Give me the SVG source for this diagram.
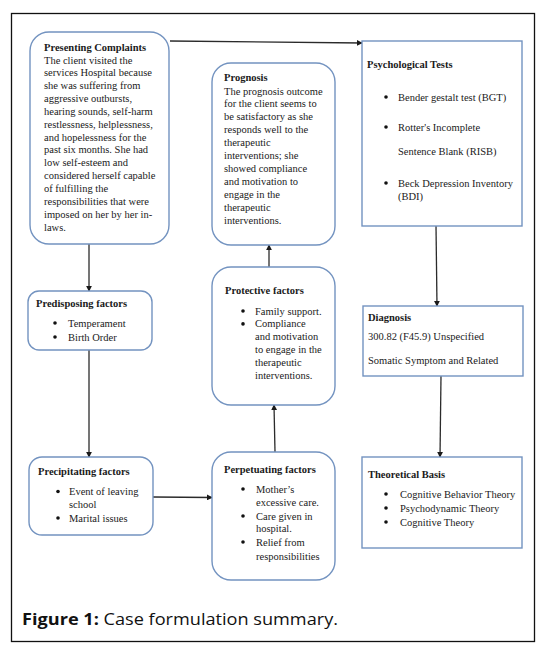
<svg xmlns="http://www.w3.org/2000/svg" width="547" height="649" viewBox="0 0 547 649">
<style>
.frame{fill:#fff;stroke:#111;stroke-width:1.3}
.box{fill:#fff;stroke:#7393c0;stroke-width:1.4}
.t{font-family:"Liberation Serif","Times New Roman",serif;font-size:10.5px;fill:#1a1a1a}
.b{font-weight:bold}
.dot{fill:#111}
.conn{stroke:#2b2b2b;stroke-width:1.3;fill:none}
.cap{font-family:"Open Sans","Noto Sans",sans-serif;font-size:16px;fill:#111}
</style>
<defs>
<marker id="arr" viewBox="0 0 8 8" refX="7" refY="4" markerWidth="6" markerHeight="6" orient="auto" markerUnits="userSpaceOnUse">
<path d="M0,0 L8,4 L0,8 z" fill="#1a1a1a"/>
</marker>
</defs>
<rect class="frame" x="11.5" y="13.5" width="523" height="628"/>

<g id="connectors">
<line class="conn" x1="170" y1="41" x2="362" y2="43" marker-end="url(#arr)"/>
<line class="conn" x1="89" y1="244" x2="89" y2="291" marker-end="url(#arr)"/>
<line class="conn" x1="89" y1="350" x2="89" y2="457" marker-end="url(#arr)"/>
<line class="conn" x1="153" y1="497" x2="212" y2="497.5" marker-end="url(#arr)"/>
<line class="conn" x1="275" y1="452" x2="274" y2="405" marker-end="url(#arr)"/>
<line class="conn" x1="269" y1="267" x2="269" y2="245" marker-end="url(#arr)"/>
<line class="conn" x1="436" y1="226" x2="437" y2="306" marker-end="url(#arr)"/>
<line class="conn" x1="441" y1="376" x2="440" y2="457" marker-end="url(#arr)"/>
</g>

<g id="presenting">
<rect class="box" x="30" y="32" width="139" height="212" rx="19"/>
<text class="t b" x="44" y="50.5">Presenting Complaints</text>
<text class="t" x="44" y="63.5">The client visited the</text>
<text class="t" x="44" y="76.35">services Hospital because</text>
<text class="t" x="44" y="89.2">she was suffering from</text>
<text class="t" x="44" y="102.05">aggressive outbursts,</text>
<text class="t" x="44" y="114.9">hearing sounds, self-harm</text>
<text class="t" x="44" y="127.75">restlessness, helplessness,</text>
<text class="t" x="44" y="140.6">and hopelessness for the</text>
<text class="t" x="44" y="153.45">past six months. She had</text>
<text class="t" x="44" y="166.3">low self-esteem and</text>
<text class="t" x="44" y="179.15">considered herself capable</text>
<text class="t" x="44" y="192">of fulfilling the</text>
<text class="t" x="44" y="204.85">responsibilities that were</text>
<text class="t" x="44" y="217.7">imposed on her by her in-</text>
<text class="t" x="44" y="230.55">laws.</text>
</g>

<g id="prognosis">
<rect class="box" x="212" y="63" width="123" height="182" rx="19"/>
<text class="t b" x="224" y="80.5">Prognosis</text>
<text class="t" x="224" y="94.5">The prognosis outcome</text>
<text class="t" x="224" y="107.4">for the client seems to</text>
<text class="t" x="224" y="120.3">be satisfactory as she</text>
<text class="t" x="224" y="133.2">responds well to the</text>
<text class="t" x="224" y="146.1">therapeutic</text>
<text class="t" x="224" y="159">interventions; she</text>
<text class="t" x="224" y="171.9">showed compliance</text>
<text class="t" x="224" y="184.8">and motivation to</text>
<text class="t" x="224" y="197.7">engage in the</text>
<text class="t" x="224" y="210.6">therapeutic</text>
<text class="t" x="224" y="223.5">interventions.</text>
</g>

<g id="tests">
<rect class="box" x="362" y="41" width="160" height="185"/>
<text class="t b" x="367" y="67.5">Psychological Tests</text>
<circle class="dot" cx="386" cy="97" r="1.8"/>
<text class="t" x="398" y="100.5">Bender gestalt test (BGT)</text>
<circle class="dot" cx="386" cy="127" r="1.8"/>
<text class="t" x="398" y="130.5">Rotter's Incomplete</text>
<text class="t" x="398" y="154.5">Sentence Blank (RISB)</text>
<circle class="dot" cx="386" cy="183" r="1.8"/>
<text class="t" x="398" y="186.5">Beck Depression Inventory</text>
<text class="t" x="398" y="199.5">(BDI)</text>
</g>

<g id="predisposing">
<rect class="box" x="28" y="291" width="124" height="59" rx="11"/>
<text class="t b" x="36" y="306.5">Predisposing factors</text>
<circle class="dot" cx="55" cy="323" r="1.8"/>
<text class="t" x="68" y="326.5">Temperament</text>
<circle class="dot" cx="55" cy="337" r="1.8"/>
<text class="t" x="68" y="340.5">Birth Order</text>
</g>

<g id="protective">
<rect class="box" x="212" y="267" width="123" height="138" rx="19"/>
<text class="t b" x="225" y="293.5">Protective factors</text>
<circle class="dot" cx="243" cy="311" r="1.8"/>
<text class="t" x="255" y="314.5">Family support.</text>
<circle class="dot" cx="243" cy="323.9" r="1.8"/>
<text class="t" x="255" y="327.4">Compliance</text>
<text class="t" x="255" y="340.3">and motivation</text>
<text class="t" x="255" y="353.2">to engage in the</text>
<text class="t" x="255" y="366.1">therapeutic</text>
<text class="t" x="255" y="379">interventions.</text>
</g>

<g id="diagnosis">
<rect class="box" x="363" y="306" width="160" height="70"/>
<text class="t b" x="368" y="320.5">Diagnosis</text>
<text class="t" x="368" y="339.5">300.82 (F45.9) Unspecified</text>
<text class="t" x="368" y="363.5">Somatic Symptom and Related</text>
</g>

<g id="precipitating">
<rect class="box" x="29" y="457" width="124" height="78" rx="13"/>
<text class="t b" x="38" y="474.5">Precipitating factors</text>
<circle class="dot" cx="58" cy="491.5" r="1.8"/>
<text class="t" x="69" y="495">Event of leaving</text>
<text class="t" x="69" y="507.5">school</text>
<circle class="dot" cx="58" cy="518" r="1.8"/>
<text class="t" x="69" y="521.5">Marital issues</text>
</g>

<g id="perpetuating">
<rect class="box" x="212" y="452" width="123" height="128" rx="19"/>
<text class="t b" x="224" y="472.5">Perpetuating factors</text>
<circle class="dot" cx="243" cy="489" r="1.8"/>
<text class="t" x="256" y="492.5">Mother’s</text>
<text class="t" x="256" y="505.5">excessive care.</text>
<circle class="dot" cx="243" cy="516" r="1.8"/>
<text class="t" x="256" y="519.5">Care given in</text>
<text class="t" x="256" y="531.5">hospital.</text>
<circle class="dot" cx="243" cy="542" r="1.8"/>
<text class="t" x="256" y="545.5">Relief from</text>
<text class="t" x="256" y="559.5">responsibilities</text>
</g>

<g id="theoretical">
<rect class="box" x="362" y="457" width="160" height="91"/>
<text class="t b" x="368" y="477.5">Theoretical Basis</text>
<circle class="dot" cx="386" cy="494" r="1.8"/>
<text class="t" x="400" y="497.5">Cognitive Behavior Theory</text>
<circle class="dot" cx="386" cy="508" r="1.8"/>
<text class="t" x="400" y="511.5">Psychodynamic Theory</text>
<circle class="dot" cx="386" cy="522" r="1.8"/>
<text class="t" x="400" y="525.5">Cognitive Theory</text>
</g>

<g id="caption">
<text class="cap" x="22" y="624.5" textLength="316" lengthAdjust="spacingAndGlyphs"><tspan font-weight="bold">Figure 1:</tspan> Case formulation summary.</text>
</g>
</svg>
